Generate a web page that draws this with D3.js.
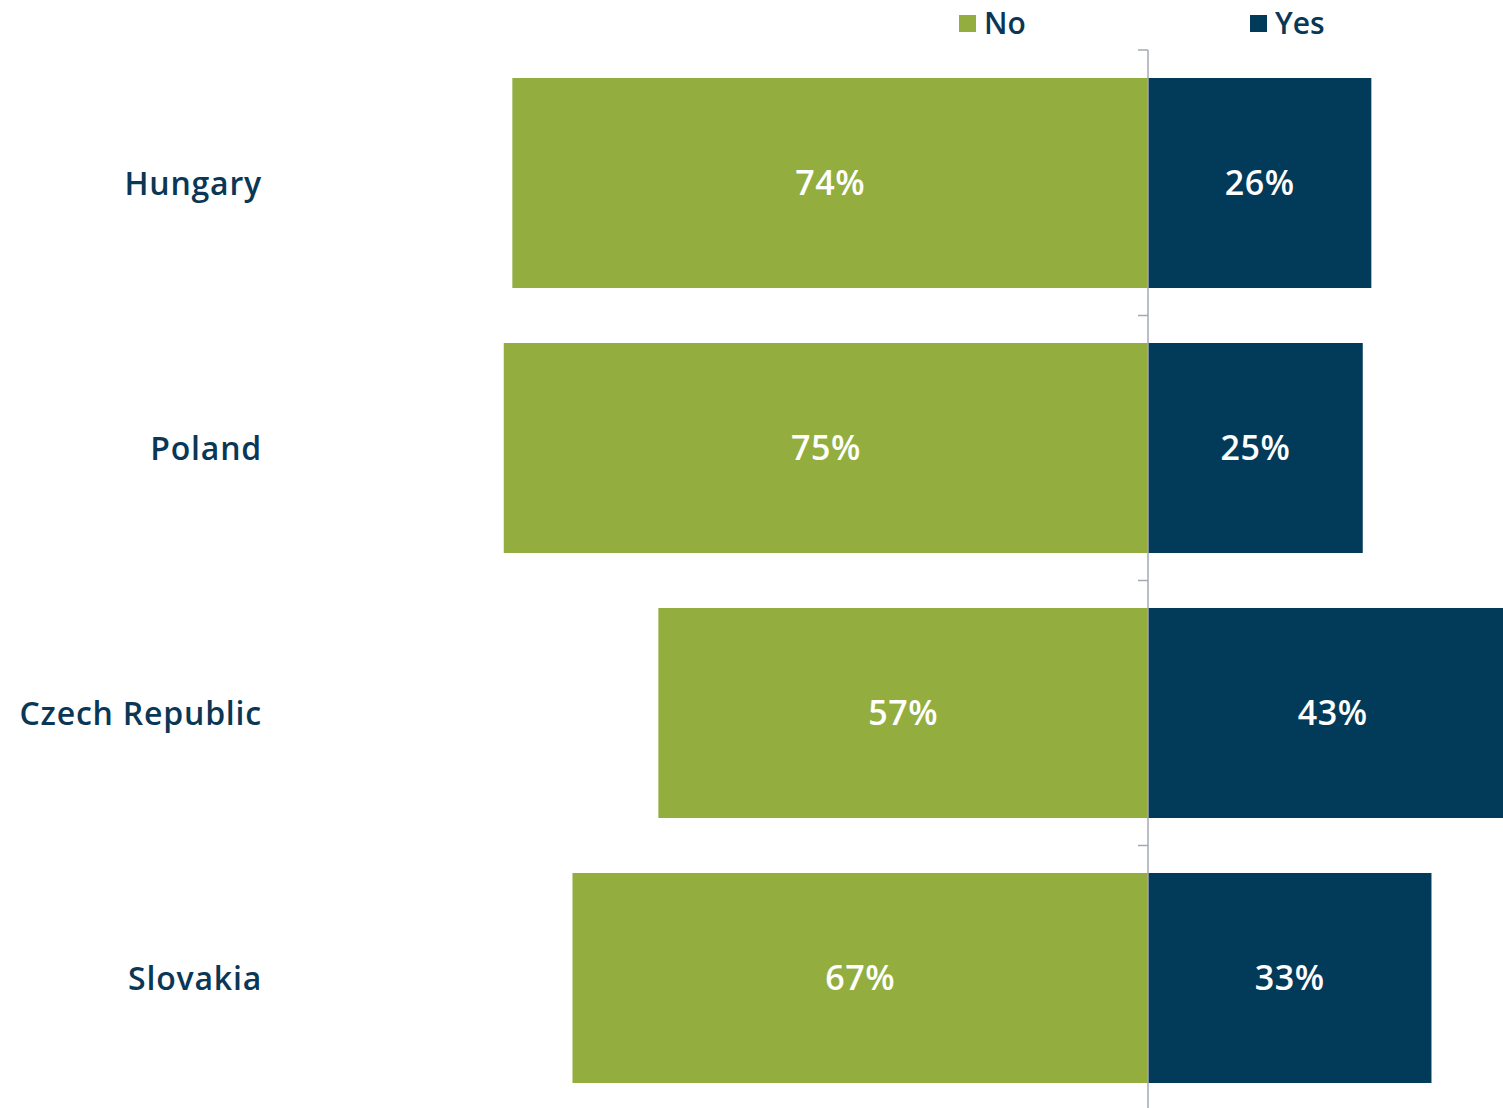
<!DOCTYPE html>
<html>
<head>
<meta charset="utf-8">
<script src="https://cdn.jsdelivr.net/npm/d3@7"></script>
<style>
  body { margin: 0; background: #fff; }
  svg { display: block; font-family: "Open Sans", "DejaVu Sans", sans-serif; font-weight: 600; }
</style>
</head>
<body>
<div id="chart"></div>
<script>
// Data
var countries = ["Hungary", "Poland", "Czech Republic", "Slovakia"];
var noValues = [74, 75, 57, 67];
var yesValues = [26, 25, 43, 33];
var seriesNames = ["No", "Yes"];
var colors = ["#93AE3F", "#023A5A"];

var width = 1503, height = 1108;
var center = 1148;
var pxPerPct = 8.59;

var svg = d3.select("#chart").append("svg")
  .attr("width", width)
  .attr("height", height);

// Scales
var x = d3.scaleLinear()
  .domain([-100, 100])
  .range([center - 100 * pxPerPct, center + 100 * pxPerPct]);

var y = d3.scaleBand()
  .domain(countries)
  .range([50, 1111])
  .paddingInner(0.2075)
  .paddingOuter(0.1057);

var gap = y.step() * y.paddingInner() / 2;

// No bars (left)
svg.selectAll(".bar-no")
  .data(countries)
  .enter().append("rect")
  .attr("class", "bar-no")
  .attr("x", function(d, i) { return x(-noValues[i]); })
  .attr("y", function(d) { return y(d); })
  .attr("width", function(d, i) { return x(0) - x(-noValues[i]); })
  .attr("height", y.bandwidth())
  .style("fill", colors[0]);

// Yes bars (right)
svg.selectAll(".bar-yes")
  .data(countries)
  .enter().append("rect")
  .attr("class", "bar-yes")
  .attr("x", x(0))
  .attr("y", function(d) { return y(d); })
  .attr("width", function(d, i) { return x(yesValues[i]) - x(0); })
  .attr("height", y.bandwidth())
  .style("fill", colors[1]);

// Value labels
svg.selectAll(".lbl-no")
  .data(countries)
  .enter().append("text")
  .attr("x", function(d, i) { return (x(-noValues[i]) + x(0)) / 2; })
  .attr("y", function(d) { return y(d) + y.bandwidth() / 2; })
  .attr("dy", "0.36em")
  .attr("text-anchor", "middle")
  .style("fill", "#fff")
  .style("font-size", "34px")
  .style("letter-spacing", "0.5px")
  .text(function(d, i) { return noValues[i] + "%"; });

svg.selectAll(".lbl-yes")
  .data(countries)
  .enter().append("text")
  .attr("x", function(d, i) { return (x(yesValues[i]) + x(0)) / 2; })
  .attr("y", function(d) { return y(d) + y.bandwidth() / 2; })
  .attr("dy", "0.36em")
  .attr("text-anchor", "middle")
  .style("fill", "#fff")
  .style("font-size", "34px")
  .style("letter-spacing", "0.5px")
  .text(function(d, i) { return yesValues[i] + "%"; });

// Center axis with ticks at band boundaries
var axisColor = "#A3A9B3";
svg.append("line")
  .attr("x1", x(0)).attr("x2", x(0))
  .attr("y1", y(countries[0]) - y.paddingOuter() * y.step())
  .attr("y2", height)
  .style("stroke", axisColor)
  .style("stroke-width", 1.5);

var tickYs = countries.map(function(d) { return y(d) - (d === countries[0] ? y.paddingOuter() * y.step() : gap); });
svg.selectAll(".tick")
  .data(tickYs)
  .enter().append("line")
  .attr("x1", x(0) - 10).attr("x2", x(0))
  .attr("y1", function(d) { return d; })
  .attr("y2", function(d) { return d; })
  .style("stroke", axisColor)
  .style("stroke-width", 1.5);

// Category labels
svg.selectAll(".cat")
  .data(countries)
  .enter().append("text")
  .attr("x", 262)
  .attr("y", function(d) { return y(d) + y.bandwidth() / 2; })
  .attr("dy", "0.36em")
  .attr("text-anchor", "end")
  .style("fill", "#0A3756")
  .style("font-size", "32px")
  .style("letter-spacing", "0.8px")
  .text(function(d) { return d; });

// Legend
var legendX = [959, 1250];
var legend = svg.selectAll(".legend")
  .data(seriesNames)
  .enter().append("g")
  .attr("class", "legend")
  .attr("transform", function(d, i) { return "translate(" + legendX[i] + ",0)"; });

legend.append("rect")
  .attr("x", 0).attr("y", 15)
  .attr("width", 17).attr("height", 17)
  .style("fill", function(d, i) { return colors[i]; });

legend.append("text")
  .attr("x", 25).attr("y", 34)
  .style("fill", "#0A3756")
  .style("font-size", "30px")
  .text(function(d) { return d; });
</script>
</body>
</html>
